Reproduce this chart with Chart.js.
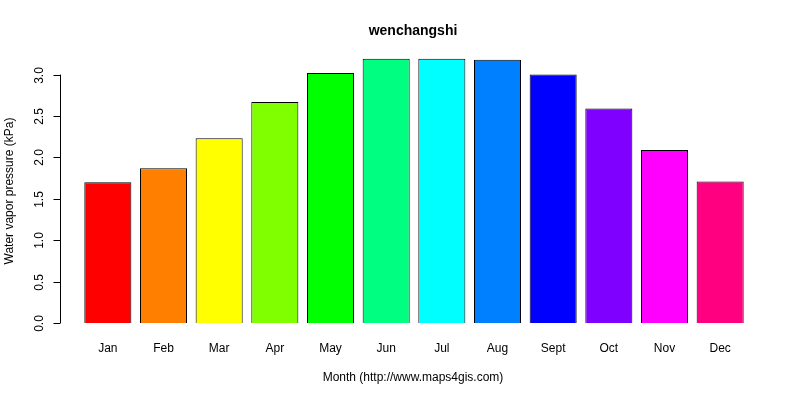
<!DOCTYPE html><html><head><meta charset="utf-8">
<script src="https://cdn.jsdelivr.net/npm/chart.js@4"></script>
<style>body{margin:0;background:#fff}#w{width:800px;height:400px}</style></head><body><div id="w"><canvas id="c"></canvas></div>
<script>
const months=["Jan","Feb","Mar","Apr","May","Jun","Jul","Aug","Sept","Oct","Nov","Dec"];
const vapor=[1.70,1.87,2.23,2.67,3.02,3.19,3.19,3.18,3.00,2.59,2.09,1.71];
const colors=["#FF0000","#FF8000","#FFFF00","#80FF00","#00FF00","#00FF80","#00FFFF","#0080FF","#0000FF","#8000FF","#FF00FF","#FF0080"];
const yTicks=[0,0.5,1,1.5,2,2.5,3];
const F="Liberation Sans, Arial, sans-serif";
const deco={id:"deco",afterDraw(ch){const c=ch.ctx,y=ch.scales.y,x=ch.scales.x;c.save();c.fillStyle="#000";c.strokeStyle="#000";c.lineWidth=1;
c.font="bold 14px "+F;c.textAlign="center";c.textBaseline="middle";c.fillText("wenchangshi",413,31);
c.font="12px "+F;
const ax=60.5;c.beginPath();c.moveTo(ax,y.getPixelForValue(0));c.lineTo(ax,y.getPixelForValue(3));c.stroke();
yTicks.forEach(v=>{const p=Math.round(y.getPixelForValue(v))+0.5;c.beginPath();c.moveTo(ax,p);c.lineTo(ax-7,p);c.stroke();
c.save();c.translate(40,p);c.rotate(-Math.PI/2);c.fillText(v.toFixed(1),0,0);c.restore();});
months.forEach((m,i)=>c.fillText(m,x.getPixelForValue(i),349));
c.fillText("Month (http://www.maps4gis.com)",413,378);
c.save();c.translate(10,191);c.rotate(-Math.PI/2);c.fillText("Water vapor pressure (kPa)",0,0);c.restore();
c.restore();}};
new Chart(document.getElementById("c"),{type:"bar",data:{labels:months,datasets:[{data:vapor,backgroundColor:colors,borderColor:"#000",borderWidth:1,barPercentage:0.845,categoryPercentage:1}]},
options:{responsive:true,maintainAspectRatio:false,animation:false,layout:{padding:{left:80,right:52,top:58,bottom:77}},
plugins:{legend:{display:false},tooltip:{enabled:false}},
scales:{x:{display:false},y:{display:false,min:0,max:3.2}}},plugins:[deco]});
</script></body></html>
